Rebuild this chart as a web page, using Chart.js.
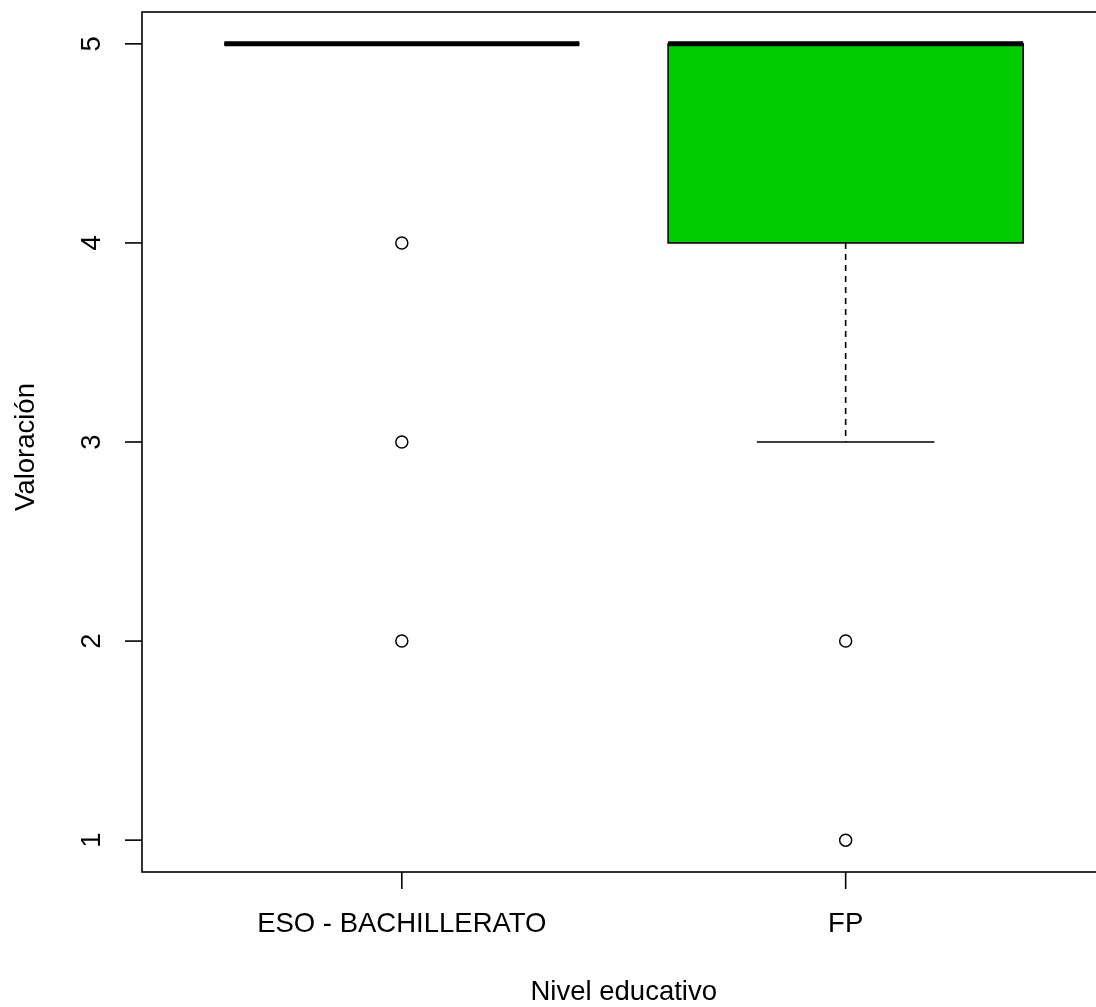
<!DOCTYPE html>
<html>
<head>
<meta charset="utf-8">
<script src="https://cdn.jsdelivr.net/npm/chart.js@4.4.1/dist/chart.umd.min.js"></script>
<style>
  html,body{margin:0;padding:0;background:#fff;overflow:hidden;}
  #wrap{position:relative;width:1110px;height:1007px;}
</style>
</head>
<body>
<div id="wrap"><canvas id="chart"></canvas></div>
<script>
// data
const categories=['ESO - BACHILLERATO','FP'];
const whiskerLow=[5,3];
const q1=[5,4];
const median=[5,5];
const q3=[5,5];
const whiskerHigh=[5,5];
const outliersESO=[4,3,2];
const outliersFP=[2,1];
const yTicks=[1,2,3,4,5];
const boxColors=['#00CD00','#00CD00'];

const FONT='"Liberation Sans", Arial, sans-serif';
const outlierPts=[
  ...outliersESO.map(v=>({x:1,y:v})),
  ...outliersFP.map(v=>({x:2,y:v}))
];

const boxPlugin={
  id:'boxPlugin',
  beforeDatasetsDraw(chart){
    const {ctx,scales:{x,y}}=chart;
    ctx.save();
    categories.forEach((c,i)=>{
      const cx=x.getPixelForValue(i+1);
      const l=x.getPixelForValue(i+1-0.4), r=x.getPixelForValue(i+1+0.4);
      const sl=x.getPixelForValue(i+1-0.2), sr=x.getPixelForValue(i+1+0.2);
      const yq1=y.getPixelForValue(q1[i]), yq3=y.getPixelForValue(q3[i]);
      const yLo=y.getPixelForValue(whiskerLow[i]), yHi=y.getPixelForValue(whiskerHigh[i]);
      const yMed=y.getPixelForValue(median[i]);
      ctx.strokeStyle='#000';
      // whiskers
      ctx.lineWidth=1.6;
      ctx.setLineDash([6,5]);
      ctx.beginPath();
      ctx.moveTo(cx,yq1);ctx.lineTo(cx,yLo);
      ctx.moveTo(cx,yq3);ctx.lineTo(cx,yHi);
      ctx.stroke();
      ctx.setLineDash([]);
      ctx.beginPath();
      ctx.moveTo(sl,yLo);ctx.lineTo(sr,yLo);
      ctx.moveTo(sl,yHi);ctx.lineTo(sr,yHi);
      ctx.stroke();
      // box
      ctx.fillStyle=boxColors[i];
      ctx.fillRect(l,yq3,r-l,yq1-yq3);
      ctx.lineWidth=1.6;
      ctx.strokeRect(l,yq3,r-l,yq1-yq3);
      // median
      ctx.lineWidth=5;
      ctx.beginPath();
      ctx.moveTo(l,yMed);ctx.lineTo(r,yMed);
      ctx.stroke();
    });
    ctx.restore();
  },
  afterDraw(chart){
    const {ctx,chartArea:a,scales:{x,y}}=chart;
    ctx.save();
    ctx.strokeStyle='#000';
    ctx.lineWidth=1.6;
    ctx.strokeRect(a.left,a.top,a.right-a.left,a.bottom-a.top);
    ctx.fillStyle='#000';
    ctx.font='27.5px '+FONT;
    ctx.textAlign='center';
    ctx.textBaseline='middle';
    // y ticks
    yTicks.forEach(v=>{
      const py=y.getPixelForValue(v);
      ctx.beginPath();ctx.moveTo(a.left,py);ctx.lineTo(a.left-17,py);ctx.stroke();
      ctx.save();
      ctx.translate(a.left-50,py);
      ctx.rotate(-Math.PI/2);
      ctx.fillText(String(v),0,0);
      ctx.restore();
    });
    // x ticks
    categories.forEach((c,i)=>{
      const px=x.getPixelForValue(i+1);
      ctx.beginPath();ctx.moveTo(px,a.bottom);ctx.lineTo(px,a.bottom+17);ctx.stroke();
      ctx.fillText(c,px,a.bottom+52);
    });
    // axis titles
    ctx.fillText('Nivel educativo',(x.getPixelForValue(1)+x.getPixelForValue(2))/2,a.bottom+120);
    ctx.save();
    ctx.translate(a.left-116,(a.top+a.bottom)/2+5);
    ctx.rotate(-Math.PI/2);
    ctx.fillText('Valoración',0,0);
    ctx.restore();
    ctx.restore();
  }
};

new Chart(document.getElementById('chart'),{
  type:'scatter',
  data:{
    datasets:[{
      label:'outliers',
      data:outlierPts,
      pointStyle:'circle',
      pointRadius:6,
      pointHoverRadius:6,
      pointBorderWidth:1.5,
      pointBorderColor:'#000',
      pointBackgroundColor:'rgba(255,255,255,0)'
    }]
  },
  options:{
    responsive:true,
    maintainAspectRatio:false,
    animation:false,
    layout:{padding:{left:142,top:12,right:5,bottom:135}},
    plugins:{legend:{display:false},tooltip:{enabled:false}},
    scales:{
      x:{type:'linear',min:0.4146,max:2.5787,display:false},
      y:{type:'linear',min:0.84,max:5.16,display:false}
    }
  },
  plugins:[boxPlugin]
});
</script>
</body>
</html>
